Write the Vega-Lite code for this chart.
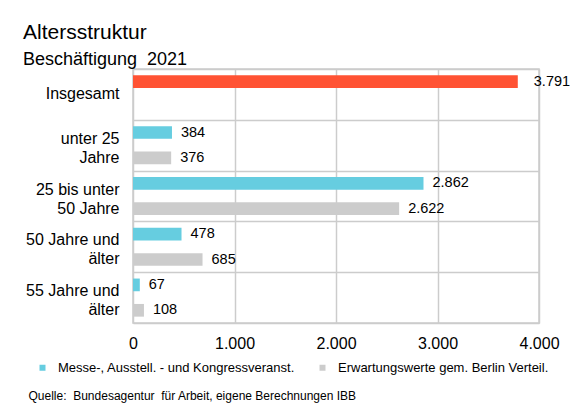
{
  "$schema": "https://vega.github.io/schema/vega-lite/v6.json",
  "width": 406,
  "height": 254,
  "autosize": {"type": "none"},
  "padding": {"left": 133, "top": 69, "right": 41, "bottom": 82},
  "background": "white",
  "title": {
    "text": "Altersstruktur",
    "subtitle": "Beschäftigung \u00a02021",
    "anchor": "start",
    "frame": "group",
    "dx": -110,
    "offset": -8,
    "fontSize": 21,
    "subtitleFontSize": 18,
    "fontWeight": "normal",
    "font": "Liberation Sans",
    "subtitleFont": "Liberation Sans",
    "color": "black",
    "subtitleColor": "black",
    "subtitlePadding": 8.5
  },
  "data": {
    "values": [
      {"kategorie": "Insgesamt", "reihe": "Messe-, Ausstell. - und Kongressveranst.", "wert": 3791},
      {"kategorie": "unter 25|Jahre", "reihe": "Messe-, Ausstell. - und Kongressveranst.", "wert": 384},
      {"kategorie": "unter 25|Jahre", "reihe": "Erwartungswerte gem. Berlin Verteil.", "wert": 376},
      {"kategorie": "25 bis unter|50 Jahre", "reihe": "Messe-, Ausstell. - und Kongressveranst.", "wert": 2862},
      {"kategorie": "25 bis unter|50 Jahre", "reihe": "Erwartungswerte gem. Berlin Verteil.", "wert": 2622},
      {"kategorie": "50 Jahre und|älter", "reihe": "Messe-, Ausstell. - und Kongressveranst.", "wert": 478},
      {"kategorie": "50 Jahre und|älter", "reihe": "Erwartungswerte gem. Berlin Verteil.", "wert": 685},
      {"kategorie": "55 Jahre und|älter", "reihe": "Messe-, Ausstell. - und Kongressveranst.", "wert": 67},
      {"kategorie": "55 Jahre und|älter", "reihe": "Erwartungswerte gem. Berlin Verteil.", "wert": 108}
    ]
  },
  "encoding": {
    "y": {
      "field": "kategorie",
      "type": "nominal",
      "sort": null,
      "scale": {"paddingInner": 0, "paddingOuter": 0},
      "axis": {
        "title": null,
        "labelExpr": "split(datum.label, '|')",
        "labelFontSize": 16,
        "labelLineHeight": 19,
        "labelAlign": "right",
        "labelBaseline": "middle",
        "labelOffset": {"condition": {"test": "datum.value === 'Insgesamt'", "value": -1}, "value": -7},
        "labelPadding": 14,
        "labelColor": "black",
        "labelFont": "Liberation Sans",
        "ticks": false,
        "domain": false,
        "grid": true,
        "tickBand": "extent",
        "gridColor": "#CCCCCC",
        "gridWidth": 1.5
      }
    },
    "yOffset": {
      "field": "reihe",
      "type": "nominal",
      "sort": ["Messe-, Ausstell. - und Kongressveranst.", "Erwartungswerte gem. Berlin Verteil."],
      "scale": {"paddingInner": 0.5, "paddingOuter": 0.25}
    },
    "x": {
      "field": "wert",
      "type": "quantitative",
      "scale": {"domain": [0, 4000], "nice": false},
      "axis": {
        "title": "Quelle: \u00a0Bundesagentur \u00a0für Arbeit, eigene Berechnungen IBB",
        "titleFont": "Liberation Sans",
        "titleFontSize": 12,
        "titleFontWeight": "normal",
        "titleColor": "black",
        "titleAnchor": "start",
        "titleAlign": "left",
        "titleBaseline": "alphabetic",
        "titleX": -105,
        "titleY": 76,
        "values": [0, 1000, 2000, 3000, 4000],
        "format": ",d",
        "labelFontSize": 16,
        "labelFont": "Liberation Sans",
        "labelColor": "black",
        "labelBaseline": "alphabetic",
        "labelPadding": 25,
        "labelFlush": false,
        "ticks": false,
        "domain": false,
        "grid": true,
        "gridColor": "#CCCCCC",
        "gridWidth": 1.5
      }
    }
  },
  "layer": [
    {
      "mark": {"type": "bar"},
      "encoding": {
        "color": {
          "condition": {"test": "datum.kategorie === 'Insgesamt'", "value": "#FF5233"},
          "field": "reihe",
          "type": "nominal",
          "sort": ["Messe-, Ausstell. - und Kongressveranst.", "Erwartungswerte gem. Berlin Verteil."],
          "scale": {
            "domain": ["Messe-, Ausstell. - und Kongressveranst.", "Erwartungswerte gem. Berlin Verteil."],
            "range": ["#66CDE0", "#CCCCCC"]
          },
          "legend": {
            "title": null,
            "orient": "none",
            "legendX": -97,
            "legendY": 292,
            "direction": "horizontal",
            "symbolType": "square",
            "symbolSize": 36,
            "symbolStrokeWidth": 0,
            "labelFontSize": 13,
            "labelFont": "Liberation Sans",
            "labelColor": "black",
            "labelOffset": 9,
            "columnPadding": 21,
            "padding": 0,
            "labelLimit": 400
          }
        }
      }
    },
    {
      "transform": [{"filter": "datum.kategorie !== 'Insgesamt'"}],
      "mark": {"type": "text", "align": "left", "baseline": "middle", "dx": 9, "fontSize": 14.5, "font": "Liberation Sans", "color": "black"},
      "encoding": {"text": {"field": "wert", "type": "quantitative", "format": ",d"}}
    },
    {
      "transform": [{"filter": "datum.kategorie === 'Insgesamt'"}],
      "mark": {"type": "text", "align": "left", "baseline": "middle", "dx": 16, "fontSize": 14.5, "font": "Liberation Sans", "color": "black"},
      "encoding": {"text": {"field": "wert", "type": "quantitative", "format": ",d"}}
    }
  ],
  "config": {
    "locale": {"number": {"decimal": ",", "thousands": ".", "grouping": [3], "currency": ["", " €"]}},
    "view": {"stroke": "#CCCCCC", "strokeWidth": 1.5},
    "font": "Liberation Sans"
  }
}
